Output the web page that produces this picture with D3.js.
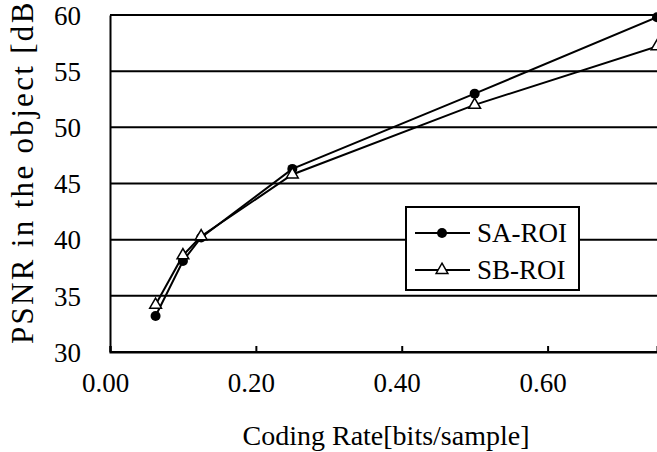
<!DOCTYPE html>
<html lang="en">
<head>
<meta charset="utf-8">
<title>PSNR vs coding rate</title>
<script src="https://cdn.jsdelivr.net/npm/d3@7"></script>
<style>
  body { margin: 0; background: #fff; }
  text { font-family: "Liberation Serif", "Times New Roman", serif; fill: #000; }
</style>
</head>
<body>
<script>
// data
var rates = [0.0625, 0.1, 0.125, 0.25, 0.5, 0.75];
var saRoi = [33.2, 38.1, 40.2, 46.3, 53.0, 59.8];
var sbRoi = [34.2, 38.6, 40.3, 45.8, 52.0, 57.2];
var xTicks = [0, 0.2, 0.4, 0.6];
var yTicks = [30, 35, 40, 45, 50, 55, 60];
var seriesNames = ["SA-ROI", "SB-ROI"];

var w = 657, h = 452;
var padLeft = 110, padRight = 657, padTop = 15, padBottom = 352;

var svg = d3.select("body").append("svg")
    .attr("width", w)
    .attr("height", h);

var x = d3.scaleLinear().domain([0, 0.75]).range([padLeft, padRight]);
var y = d3.scaleLinear().domain([30, 60]).range([padBottom, padTop]);

// gridlines
svg.append("g")
    .selectAll("line")
    .data(yTicks.slice(1))
    .enter().append("line")
    .attr("x1", padLeft).attr("x2", w + 5)
    .attr("y1", function(d) { return y(d); })
    .attr("y2", function(d) { return y(d); })
    .attr("stroke", "#000").attr("stroke-width", 2);

// y axis
var yAxis = svg.append("g")
    .attr("transform", "translate(" + padLeft + ",0)")
    .call(d3.axisLeft(y).tickValues(yTicks).tickSize(0).tickPadding(29).tickFormat(d3.format("d")));
yAxis.select(".domain").attr("stroke", "#000").attr("stroke-width", 2);
yAxis.selectAll("text").attr("font-size", "27px").attr("font-family", "Liberation Serif").attr("dy", "0.34em");

// x axis
var xAxis = svg.append("g")
    .attr("transform", "translate(0," + padBottom + ")")
    .call(d3.axisBottom(x).tickValues(xTicks).tickSize(-6).tickPadding(21).tickFormat(d3.format(".2f")));
xAxis.select(".domain").attr("stroke", "#000").attr("stroke-width", 2);
xAxis.selectAll("line").attr("stroke", "#000").attr("stroke-width", 2);
xAxis.selectAll("text").attr("font-size", "27px").attr("font-family", "Liberation Serif").attr("dx", "-5");

// extend bottom axis line beyond the right edge
svg.append("line")
    .attr("x1", padLeft).attr("x2", w + 5)
    .attr("y1", padBottom).attr("y2", padBottom)
    .attr("stroke", "#000").attr("stroke-width", 2);

// axis titles
svg.append("text")
    .attr("x", 386).attr("y", 445)
    .attr("text-anchor", "middle")
    .attr("font-size", "28px")
    .text("Coding Rate[bits/sample]");

// y title runs off the top edge in the original
svg.append("text")
    .attr("transform", "translate(33,344) rotate(-90)")
    .attr("text-anchor", "start")
    .attr("font-size", "31px")
    .attr("textLength", 354)
    .attr("lengthAdjust", "spacing")
    .text("PSNR in the object [dB]");

// series
var line = d3.line()
    .x(function(d) { return x(d[0]); })
    .y(function(d) { return y(d[1]); });

var saPts = d3.zip(rates, saRoi);
var sbPts = d3.zip(rates, sbRoi);

svg.append("path").datum(saPts)
    .attr("d", line).attr("fill", "none")
    .attr("stroke", "#000").attr("stroke-width", 2);
svg.append("path").datum(sbPts)
    .attr("d", line).attr("fill", "none")
    .attr("stroke", "#000").attr("stroke-width", 2);

var tri = d3.symbol().type(d3.symbolTriangle).size(60);

svg.selectAll("circle.sa")
    .data(saPts)
    .enter().append("circle")
    .attr("class", "sa")
    .attr("cx", function(d) { return x(d[0]); })
    .attr("cy", function(d) { return y(d[1]); })
    .attr("r", 5)
    .attr("fill", "#000");

svg.selectAll("path.sb")
    .data(sbPts)
    .enter().append("path")
    .attr("class", "sb")
    .attr("d", tri)
    .attr("transform", function(d) { return "translate(" + x(d[0]) + "," + y(d[1]) + ")"; })
    .attr("fill", "#fff").attr("stroke", "#000").attr("stroke-width", 1.5);

// legend
var lg = svg.append("g");
lg.append("rect")
    .attr("x", 406).attr("y", 207)
    .attr("width", 173).attr("height", 83)
    .attr("fill", "#fff").attr("stroke", "#000").attr("stroke-width", 2);

var rows = lg.selectAll("g.row")
    .data(seriesNames)
    .enter().append("g")
    .attr("class", "row")
    .attr("transform", function(d, i) { return "translate(0," + (233 + i * 37) + ")"; });

rows.append("line")
    .attr("x1", 415).attr("x2", 470)
    .attr("stroke", "#000").attr("stroke-width", 2);

rows.filter(function(d, i) { return i === 0; })
    .append("circle").attr("cx", 442).attr("r", 5).attr("fill", "#000");

rows.filter(function(d, i) { return i === 1; })
    .append("path").attr("d", tri)
    .attr("transform", "translate(442,0)")
    .attr("fill", "#fff").attr("stroke", "#000").attr("stroke-width", 1.5);

rows.append("text")
    .attr("x", 477).attr("dy", "0.35em")
    .attr("font-size", "27px")
    .text(function(d) { return d; });
</script>
</body>
</html>
